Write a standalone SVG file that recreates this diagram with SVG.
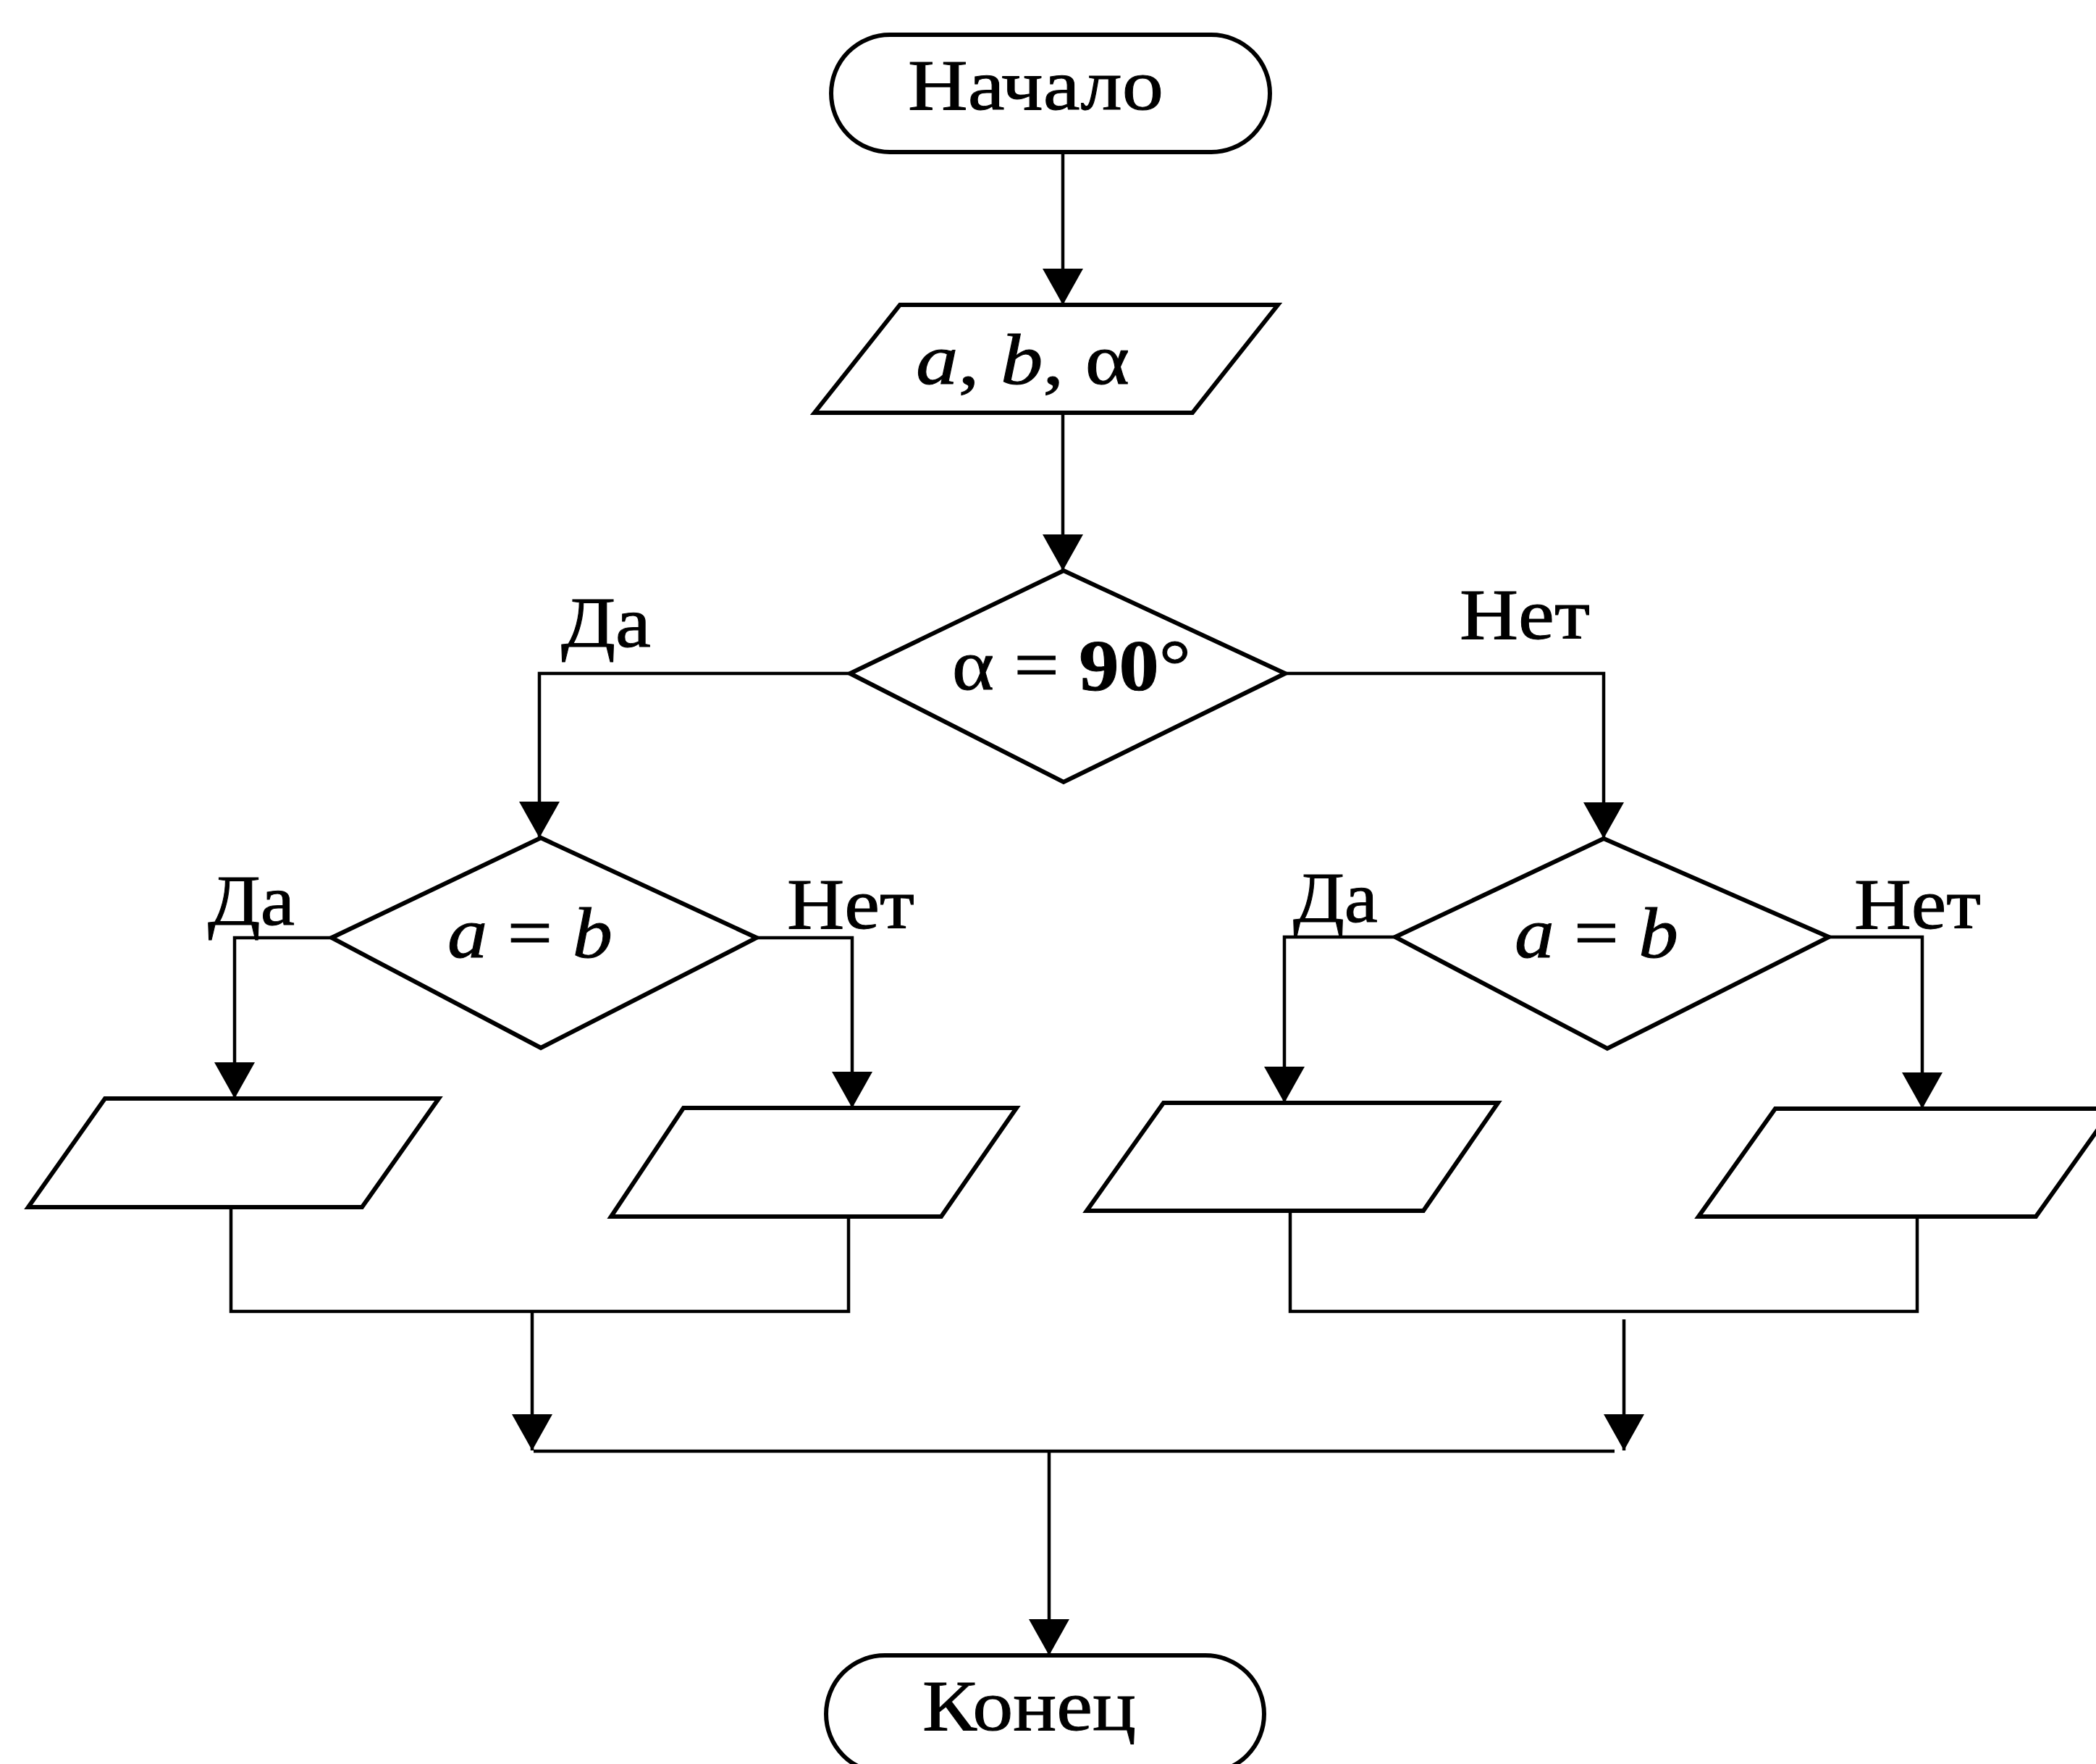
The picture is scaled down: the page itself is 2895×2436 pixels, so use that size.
<svg xmlns="http://www.w3.org/2000/svg" width="2895" height="2436" viewBox="0 0 2895 2436">
<style>
.shape{fill:#fff;stroke:#000;stroke-width:6;stroke-linejoin:miter}
.conn{fill:none;stroke:#000;stroke-width:4.5}
.t{font-family:"Liberation Serif","DejaVu Serif",serif;font-size:100px;fill:#000;stroke:#000;stroke-width:1}
.i{font-style:italic}
.b{font-weight:bold}
</style>
<defs>
<marker id="arr" markerUnits="userSpaceOnUse" viewBox="0 0 50 56" markerWidth="50" markerHeight="56" refX="50" refY="28" orient="auto">
<path d="M0,0 L50,28 L0,56 z" fill="#000"/>
</marker>
</defs>
<rect width="2895" height="2436" fill="#fff"/>
<g id="connectors">
<line class="conn" x1="1468" y1="210" x2="1468" y2="421" marker-end="url(#arr)"/>
<line class="conn" x1="1468" y1="570" x2="1468" y2="788" marker-end="url(#arr)"/>
<polyline class="conn" points="1174,930 745,930 745,1157" marker-end="url(#arr)"/>
<polyline class="conn" points="1775,930 2215,930 2215,1158" marker-end="url(#arr)"/>
<polyline class="conn" points="458,1295 324,1295 324,1517" marker-end="url(#arr)"/>
<polyline class="conn" points="1045,1295 1177,1295 1177,1530" marker-end="url(#arr)"/>
<polyline class="conn" points="1927,1294 1774,1294 1774,1523" marker-end="url(#arr)"/>
<polyline class="conn" points="2526,1294 2655,1294 2655,1531" marker-end="url(#arr)"/>
<polyline class="conn" points="319,1667 319,1811 1172,1811 1172,1680"/>
<polyline class="conn" points="1782,1672 1782,1811 2648,1811 2648,1680"/>
<line class="conn" x1="735" y1="1811" x2="735" y2="2003" marker-end="url(#arr)"/>
<line class="conn" x1="2243" y1="1822" x2="2243" y2="2003" marker-end="url(#arr)"/>
<line class="conn" x1="737" y1="2004" x2="2230" y2="2004"/>
<line class="conn" x1="1449" y1="2006" x2="1449" y2="2286" marker-end="url(#arr)"/>
</g>
<g id="start">
<rect class="shape" x="1148" y="48" width="606" height="162" rx="81" ry="81"/>
<text class="t" x="1254" y="151" textLength="353" lengthAdjust="spacingAndGlyphs">Начало</text>
</g>
<g id="input">
<polygon class="shape" points="1243,421 1765,421 1647,570 1125,570"/>
<text class="t" x="1265" y="530" textLength="295" lengthAdjust="spacingAndGlyphs"><tspan class="i">a</tspan>, <tspan class="i">b</tspan>, α</text>
</g>
<g id="cond1">
<polygon class="shape" points="1469,788 1775,930 1469,1080 1174,930"/>
<text class="t" x="1315" y="952" textLength="330" lengthAdjust="spacingAndGlyphs">α = <tspan class="b">90</tspan>°</text>
<text class="t" x="775" y="893" textLength="124" lengthAdjust="spacingAndGlyphs">Да</text>
<text class="t" x="2016" y="882" textLength="180" lengthAdjust="spacingAndGlyphs">Нет</text>
</g>
<g id="cond2">
<polygon class="shape" points="747,1157 1045,1295 747,1447 458,1295"/>
<text class="t" x="618" y="1322" textLength="228" lengthAdjust="spacingAndGlyphs"><tspan class="i">a</tspan> = <tspan class="i">b</tspan></text>
<text class="t" x="287" y="1277" textLength="120" lengthAdjust="spacingAndGlyphs">Да</text>
<text class="t" x="1087" y="1282" textLength="176" lengthAdjust="spacingAndGlyphs">Нет</text>
</g>
<g id="cond3">
<polygon class="shape" points="2215,1158 2526,1294 2220,1448 1927,1294"/>
<text class="t" x="2092" y="1322" textLength="226" lengthAdjust="spacingAndGlyphs"><tspan class="i">a</tspan> = <tspan class="i">b</tspan></text>
<text class="t" x="1786" y="1273" textLength="117" lengthAdjust="spacingAndGlyphs">Да</text>
<text class="t" x="2561" y="1282" textLength="175" lengthAdjust="spacingAndGlyphs">Нет</text>
</g>
<g id="out1"><polygon class="shape" points="145,1517 606,1517 500,1667 39,1667"/></g>
<g id="out2"><polygon class="shape" points="944,1530 1404,1530 1300,1680 844,1680"/></g>
<g id="out3"><polygon class="shape" points="1607,1523 2069,1523 1966,1672 1501,1672"/></g>
<g id="out4"><polygon class="shape" points="2452,1531 2918,1531 2812,1680 2346,1680"/></g>
<g id="end">
<rect class="shape" x="1141" y="2286" width="605" height="162" rx="81" ry="81"/>
<text class="t" x="1274" y="2389" textLength="295" lengthAdjust="spacingAndGlyphs">Конец</text>
</g>
</svg>
